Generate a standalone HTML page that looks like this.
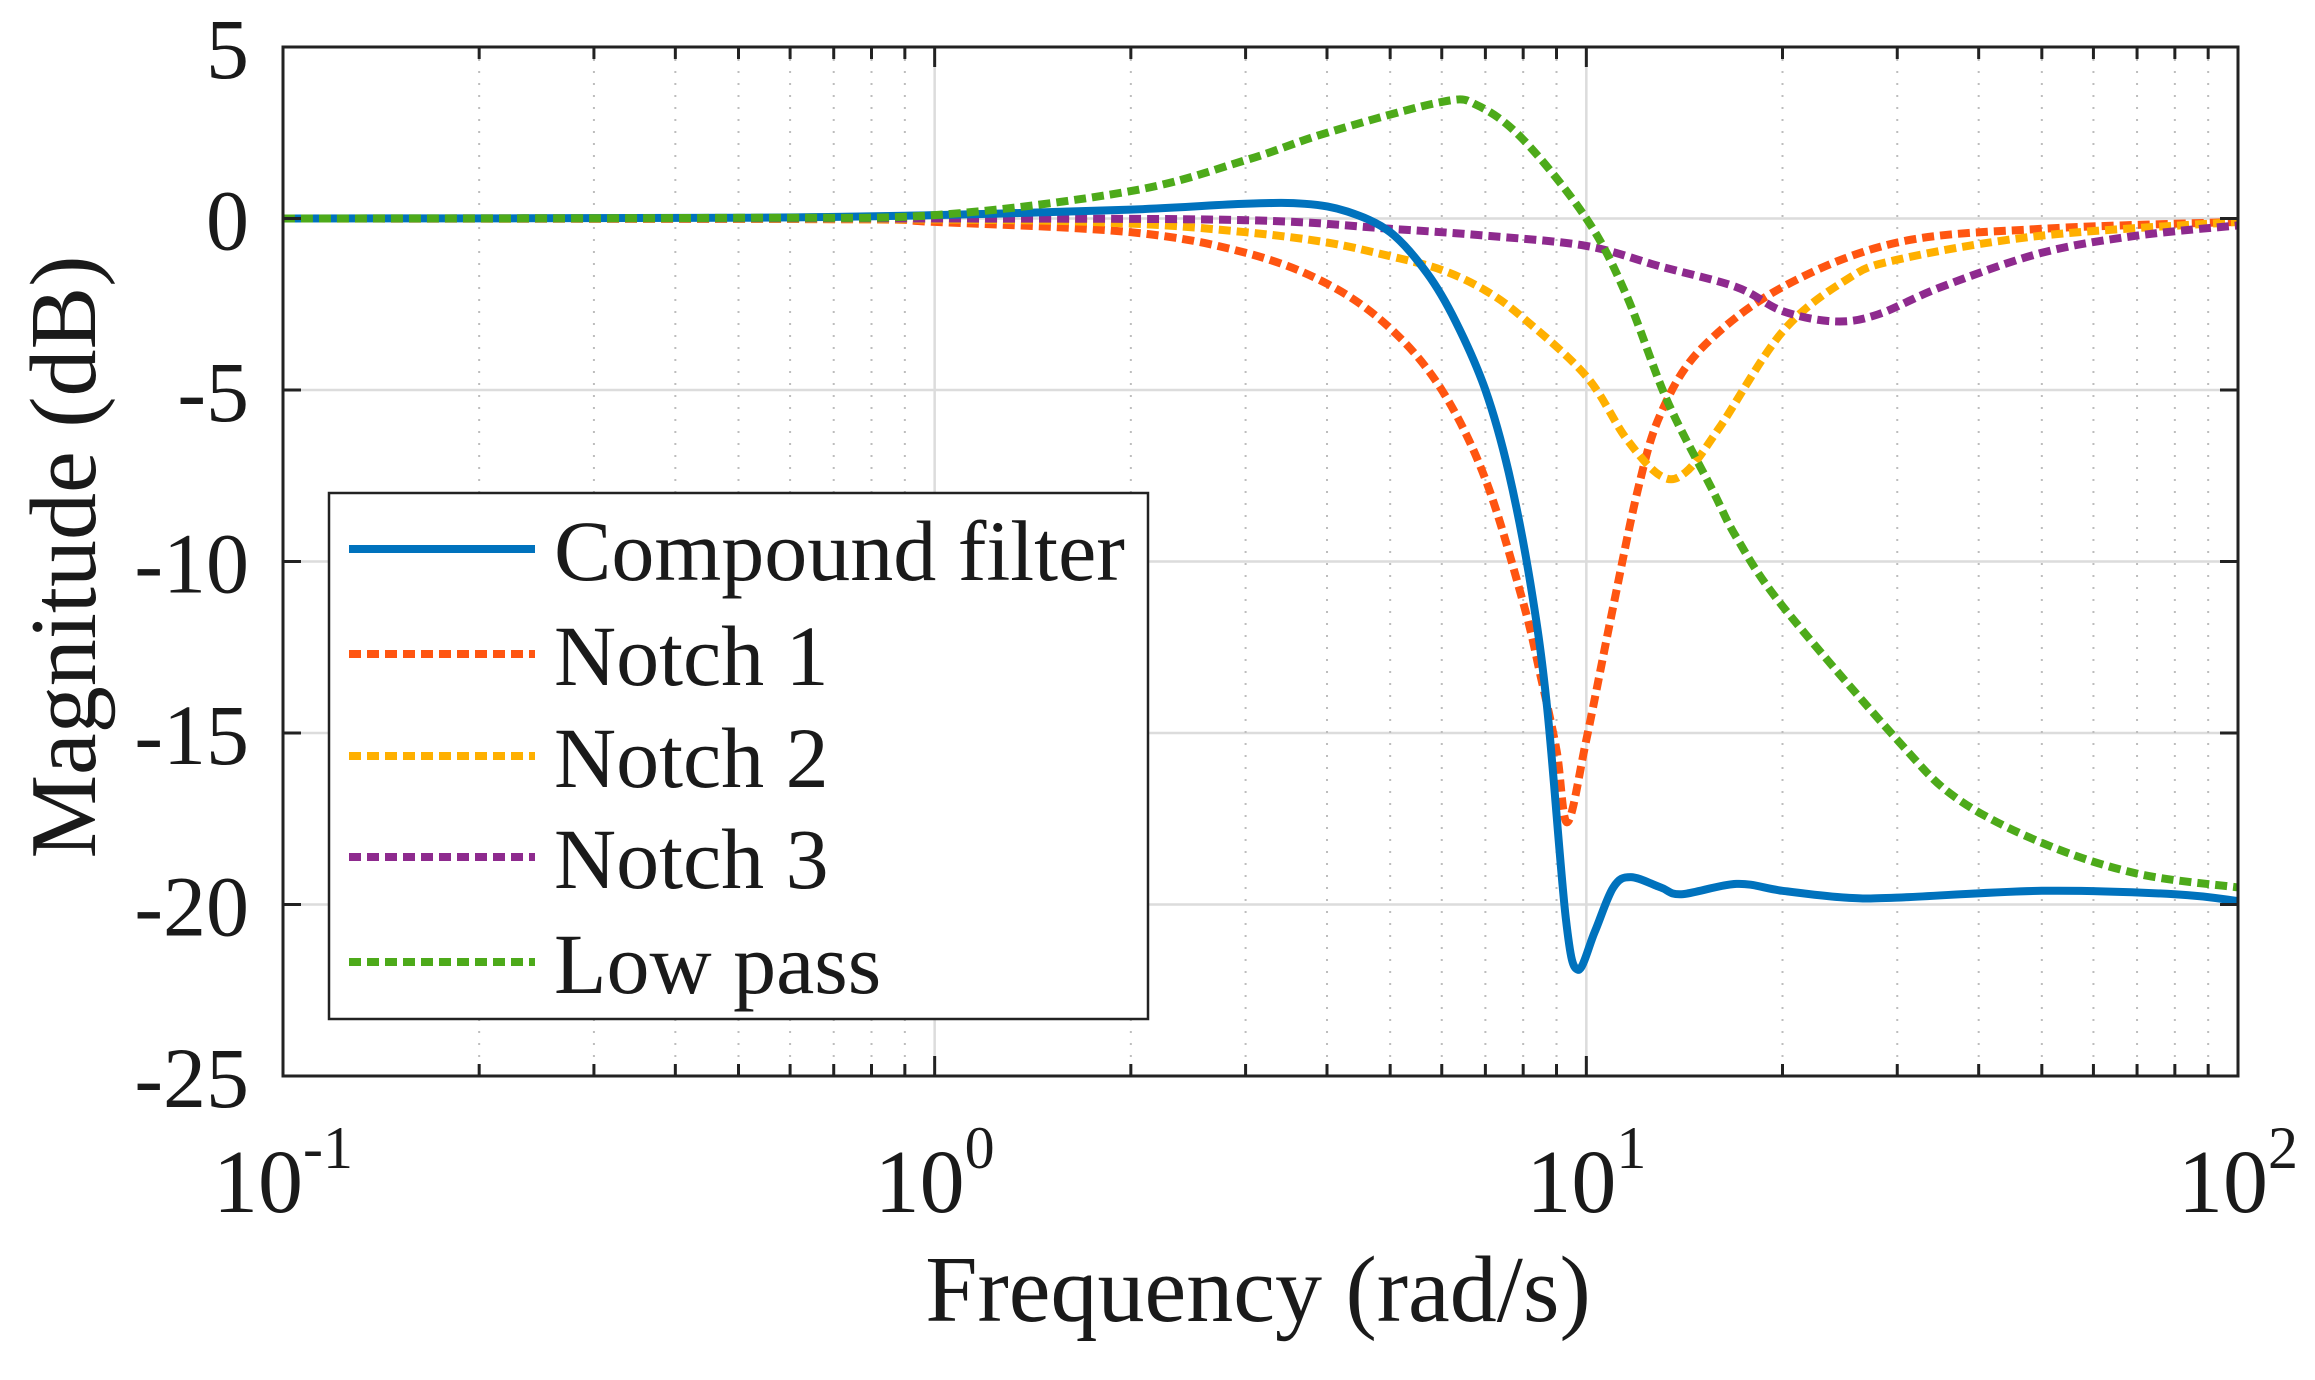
<!DOCTYPE html>
<html><head><meta charset="utf-8"><style>
html,body{margin:0;padding:0;background:#fff;}
svg{display:block;}
text{font-family:"Liberation Serif","Times New Roman",serif;fill:#1a1a1a;}
</style></head><body>
<svg id="chart" width="2315" height="1380" viewBox="0 0 2315 1380" xmlns="http://www.w3.org/2000/svg">
<g id="grid"></g>
<g id="series"></g>
<g id="axes"></g>
<g id="legend">
  <rect x="329" y="493" width="819" height="526" fill="#fff" stroke="#222" stroke-width="2.5"/>
</g>
<text transform="translate(95,557) rotate(-90)" text-anchor="middle" font-size="94">Magnitude (dB)</text>
<text x="1258" y="1321" text-anchor="middle" font-size="94">Frequency (rad/s)</text>
</svg>
<script>
// data (frequency in rad/s, magnitude in dB)
const lowPassW  = [0.1,0.5,1,2,3,4,6,6.8,8,10,11.5,13.3,15.6,17,20,30,37,50,70,100];
const lowPassDb = [0,0.02,0.1,0.8,1.7,2.5,3.4,3.3,2.3,0,-2.2,-5.3,-7.9,-9.3,-11.3,-15.2,-16.9,-18.2,-19.1,-19.5];
const notch1W  = [0.1,0.7,1,2,3,4,5,6,7,8,8.5,9,9.35,10,11,12,13,15,20,30,50,100];
const notch1Db = [0,-0.02,-0.1,-0.4,-1.0,-1.9,-3.2,-5.0,-7.6,-11.2,-13.3,-15.5,-17.6,-15.2,-11.3,-7.9,-5.7,-3.8,-2.0,-0.7,-0.3,-0.1];
const notch2W  = [0.1,1,2,3,4,5,6,7,8,10,11.5,13,14.2,16,20,25,30,50,100];
const notch2Db = [0,-0.03,-0.15,-0.4,-0.7,-1.1,-1.5,-2.1,-2.9,-4.6,-6.4,-7.5,-7.4,-6.1,-3.3,-1.8,-1.2,-0.5,-0.1];
const notch3W  = [0.1,1,3,5,7,10,13,17,20,24,28,35,50,70,100];
const notch3Db = [0,0,-0.05,-0.3,-0.5,-0.8,-1.4,-2.0,-2.7,-3.0,-2.8,-2.0,-1.0,-0.5,-0.2];
const compW  = [0.1,0.5,1,2,3,3.7,4.3,5,5.7,6.3,7,7.6,8.2,8.7,9.3,9.7,10.3,11,11.7,13,14,17,20,25,30,50,80,100];
const compDb = [0,0.02,0.1,0.26,0.43,0.43,0.2,-0.4,-1.6,-3.0,-5.0,-7.4,-10.6,-14.2,-20.4,-21.9,-20.8,-19.5,-19.2,-19.5,-19.7,-19.4,-19.6,-19.8,-19.8,-19.6,-19.7,-19.9];
const yTicks = [5,0,-5,-10,-15,-20,-25];
const xDecades = [-1,0,1,2];
const legendLabels = ["Compound filter","Notch 1","Notch 2","Notch 3","Low pass"];

const NS="http://www.w3.org/2000/svg";
const L=283,R=2238,T=47,B=1076;
const xMin=-1,xMax=2,yMin=-25,yMax=5;
function sx(w){return L+(Math.log10(w)-xMin)/(xMax-xMin)*(R-L);}
function sy(d){return T+(yMax-d)/(yMax-yMin)*(B-T);}
function mk(tag,attrs,parent){const e=document.createElementNS(NS,tag);for(const k in attrs)e.setAttribute(k,attrs[k]);parent.appendChild(e);return e;}

const grid=document.getElementById('grid');
const axes=document.getElementById('axes');
const series=document.getElementById('series');

for(const d of yTicks){
  if(d===yMax||d===yMin)continue;
  const g=mk('line',{x1:L,x2:R,y1:sy(d),y2:sy(d),stroke:'#dcdcdc','stroke-width':2.5},grid);
  
  
}
for(let p=-1;p<2;p++){
  for(let m=1;m<10;m++){
    const w=m*Math.pow(10,p);const x=sx(w);
    if(m===1){
      if(p>-1){const g=mk('line',{x1:x,x2:x,y1:T,y2:B,stroke:'#dcdcdc','stroke-width':2.5},grid);
      
      }
    }else{
      const g=mk('line',{x1:x,x2:x,y1:T,y2:B,stroke:'#bdbdbd','stroke-width':2,'stroke-dasharray':'2 10'},grid);
      
      
    }
  }
}

function pathFor(ws,ds){
  const pts=ws.map((w,i)=>[sx(w),sy(ds[i])]);
  let d='M'+pts[0][0].toFixed(1)+','+pts[0][1].toFixed(1);
  for(let i=0;i<pts.length-1;i++){
    const p0=pts[Math.max(0,i-1)],p1=pts[i],p2=pts[i+1],p3=pts[Math.min(pts.length-1,i+2)];
    const c1=[p1[0]+(p2[0]-p0[0])/6,p1[1]+(p2[1]-p0[1])/6];
    const c2=[p2[0]-(p3[0]-p1[0])/6,p2[1]-(p3[1]-p1[1])/6];
    d+=' C'+c1.map(v=>v.toFixed(1)).join(',')+' '+c2.map(v=>v.toFixed(1)).join(',')+' '+p2.map(v=>v.toFixed(1)).join(',');
  }
  return d;
}
const dash='12 6';
const s1=mk('path',{d:pathFor(notch1W,notch1Db),fill:'none',stroke:'#FF5511','stroke-width':8,'stroke-dasharray':dash},series);


const s2=mk('path',{d:pathFor(notch2W,notch2Db),fill:'none',stroke:'#FFB000','stroke-width':8,'stroke-dasharray':dash},series);


const s3=mk('path',{d:pathFor(notch3W,notch3Db),fill:'none',stroke:'#8E2A8E','stroke-width':8,'stroke-dasharray':dash},series);


const s0=mk('path',{d:pathFor(compW,compDb),fill:'none',stroke:'#0072BD','stroke-width':8,'stroke-linejoin':'round'},series);


const s4=mk('path',{d:pathFor(lowPassW,lowPassDb),fill:'none',stroke:'#4DAA1A','stroke-width':8,'stroke-dasharray':dash},series);



const fr=mk('rect',{x:L,y:T,width:R-L,height:B-T,fill:'none',stroke:'#222','stroke-width':3},axes);


for(const d of yTicks){
  const y=sy(d);
  const t1=mk('line',{x1:L,x2:L+18,y1:y,y2:y,stroke:'#222','stroke-width':3},axes);
  
  
  const t2=mk('line',{x1:R-18,x2:R,y1:y,y2:y,stroke:'#222','stroke-width':3},axes);
  
  
  const lb=mk('text',{x:249,y:y+31,'text-anchor':'end','font-size':86},axes);
  lb.textContent=(d<0?'-':'')+Math.abs(d);
  
  
}
for(let p=-1;p<=2;p++){
  for(let m=1;m<10;m++){
    if(p===2&&m>1)break;
    const x=sx(m*Math.pow(10,p));const len=m===1?20:12;
    const t1=mk('line',{x1:x,x2:x,y1:B,y2:B-len,stroke:'#222','stroke-width':3},axes);
    
    
    const t2=mk('line',{x1:x,x2:x,y1:T,y2:T+len,stroke:'#222','stroke-width':3},axes);
    
    
  }
}
for(const e of xDecades){
  const x=sx(Math.pow(10,e));
  const lb=mk('text',{x:x,y:1212,'text-anchor':'middle','font-size':90},axes);
  
  
  lb.appendChild(document.createTextNode('10'));
  const sp=mk('tspan',{dy:-44,'font-size':60},lb);
  sp.textContent=String(e);
}

const legend=document.getElementById('legend');
const legColors=['#0072BD','#FF5511','#FFB000','#8E2A8E','#4DAA1A'];
const legY=[549,654,756,857,962];
legendLabels.forEach((name,i)=>{
  const g=mk('g',{},legend);
  
  
  const ln=mk('line',{x1:349,x2:535,y1:legY[i],y2:legY[i],stroke:legColors[i],'stroke-width':8},g);
  if(i>0)ln.setAttribute('stroke-dasharray','12 6');
  
  
  const tx=mk('text',{x:554,y:legY[i]+31,'font-size':86},g);
  tx.textContent=name;
  
  
});
</script>
</body></html>
